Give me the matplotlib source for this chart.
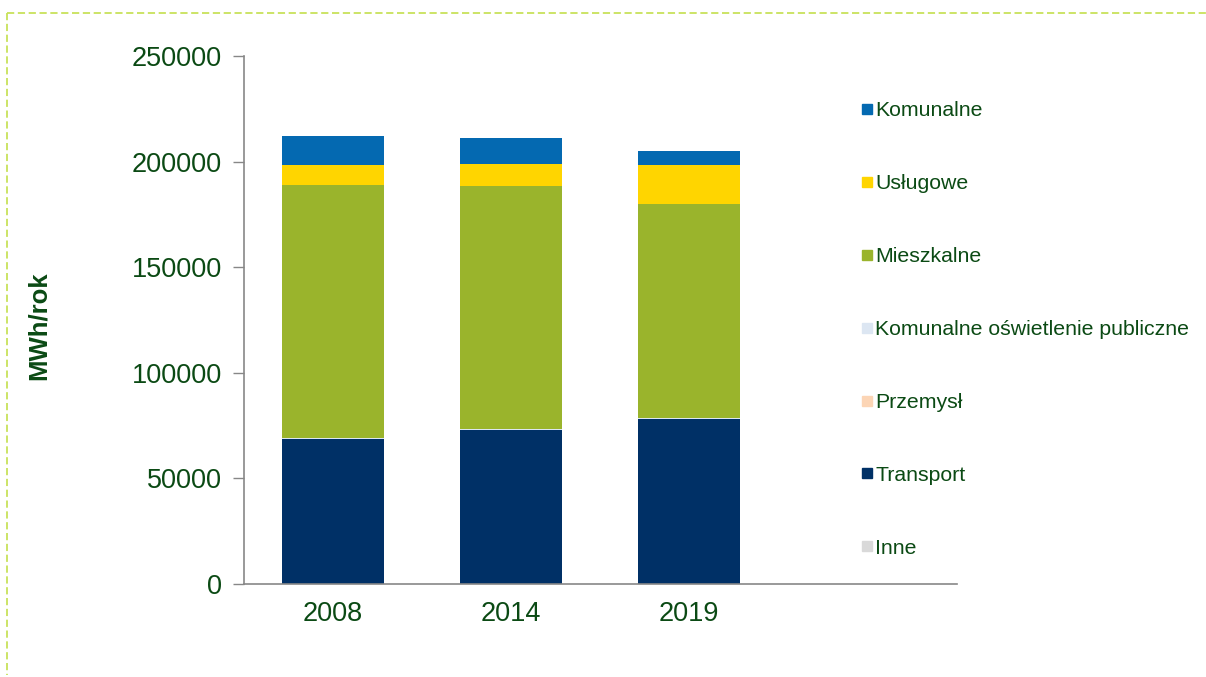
import matplotlib
matplotlib.use("Agg")
import matplotlib.pyplot as plt
from matplotlib.lines import Line2D
import numpy as np

plt.rcParams['font.family'] = ['Liberation Sans', 'DejaVu Sans']

years = ["2008", "2014", "2019"]
inne = [0, 0, 0]
transport = [68700, 72800, 78300]
przemysl = [0, 0, 0]
oswietlenie = [500, 600, 200]
mieszkalne = [119600, 115200, 101300]
uslugowe = [9500, 10400, 18400]
komunalne = [13800, 12200, 6800]

series = [
    ("Inne", inne, "#D9D9D9"),
    ("Transport", transport, "#003066"),
    ("Przemysł", przemysl, "#FCD5B5"),
    ("Komunalne oświetlenie publiczne", oswietlenie, "#DCE6F2"),
    ("Mieszkalne", mieszkalne, "#9AB42C"),
    ("Usługowe", uslugowe, "#FFD500"),
    ("Komunalne", komunalne, "#0469B1"),
]

text_color = "#0B4A14"
W, H = 1206, 677
fig = plt.figure(figsize=(W / 100, H / 100), dpi=100)
ax = fig.add_axes([244 / W, 1 - 584 / H, (957 - 244) / W, (584 - 56) / H])

x = np.arange(len(years))
bottom = np.zeros(len(years))
for name, vals, col in series:
    v = np.array(vals, dtype=float)
    ax.bar(x, v, bottom=bottom, width=0.573, color=col, edgecolor="none", label=name)
    bottom += v

ax.set_xlim(-0.5, 3.506)
ax.set_ylim(0, 250000)
ax.set_yticks(np.arange(0, 250001, 50000))
ax.set_yticklabels([str(int(t)) for t in np.arange(0, 250001, 50000)])
ax.set_xticks(x)
ax.set_xticklabels(years)
ax.tick_params(axis='y', colors="#878787", labelcolor=text_color, labelsize=19.5,
               direction='out', length=8, width=1, pad=8)
ax.tick_params(axis='x', length=0, labelcolor=text_color, labelsize=19.5, pad=12)
for s in ["top", "right"]:
    ax.spines[s].set_visible(False)
for s in ["left", "bottom"]:
    ax.spines[s].set_color("#878787")
    ax.spines[s].set_linewidth(1.2)

fig.text(39 / W, 1 - 326 / H, "MWh/rok", rotation=90, fontsize=18.5, fontweight='bold',
         color=text_color, ha='center', va='center')

handles = [Line2D([], [], marker='s', linestyle='none', markersize=7,
                  markerfacecolor=col, markeredgecolor=col) for _, _, col in series[::-1]]
labels = [name for name, _, _ in series[::-1]]
leg = fig.legend(handles, labels, loc='upper left', bbox_to_anchor=(852 / W, 1 - 93 / H),
                 frameon=False, fontsize=15.3, labelspacing=2.535, handlelength=0.6,
                 handletextpad=0.1, borderaxespad=0)
for t in leg.get_texts():
    t.set_color(text_color)

dash_col = "#C8E25A"
fig.add_artist(Line2D([7 / W, 1.0], [1 - 12.5 / H, 1 - 12.5 / H], transform=fig.transFigure,
                      color=dash_col, linewidth=1.3, linestyle=(0, (4, 2))))
fig.add_artist(Line2D([7 / W, 7 / W], [1 - 12.5 / H, 1 - 675 / H], transform=fig.transFigure,
                      color=dash_col, linewidth=1.3, linestyle=(0, (4, 2))))

fig.savefig("out.png", dpi=100)
